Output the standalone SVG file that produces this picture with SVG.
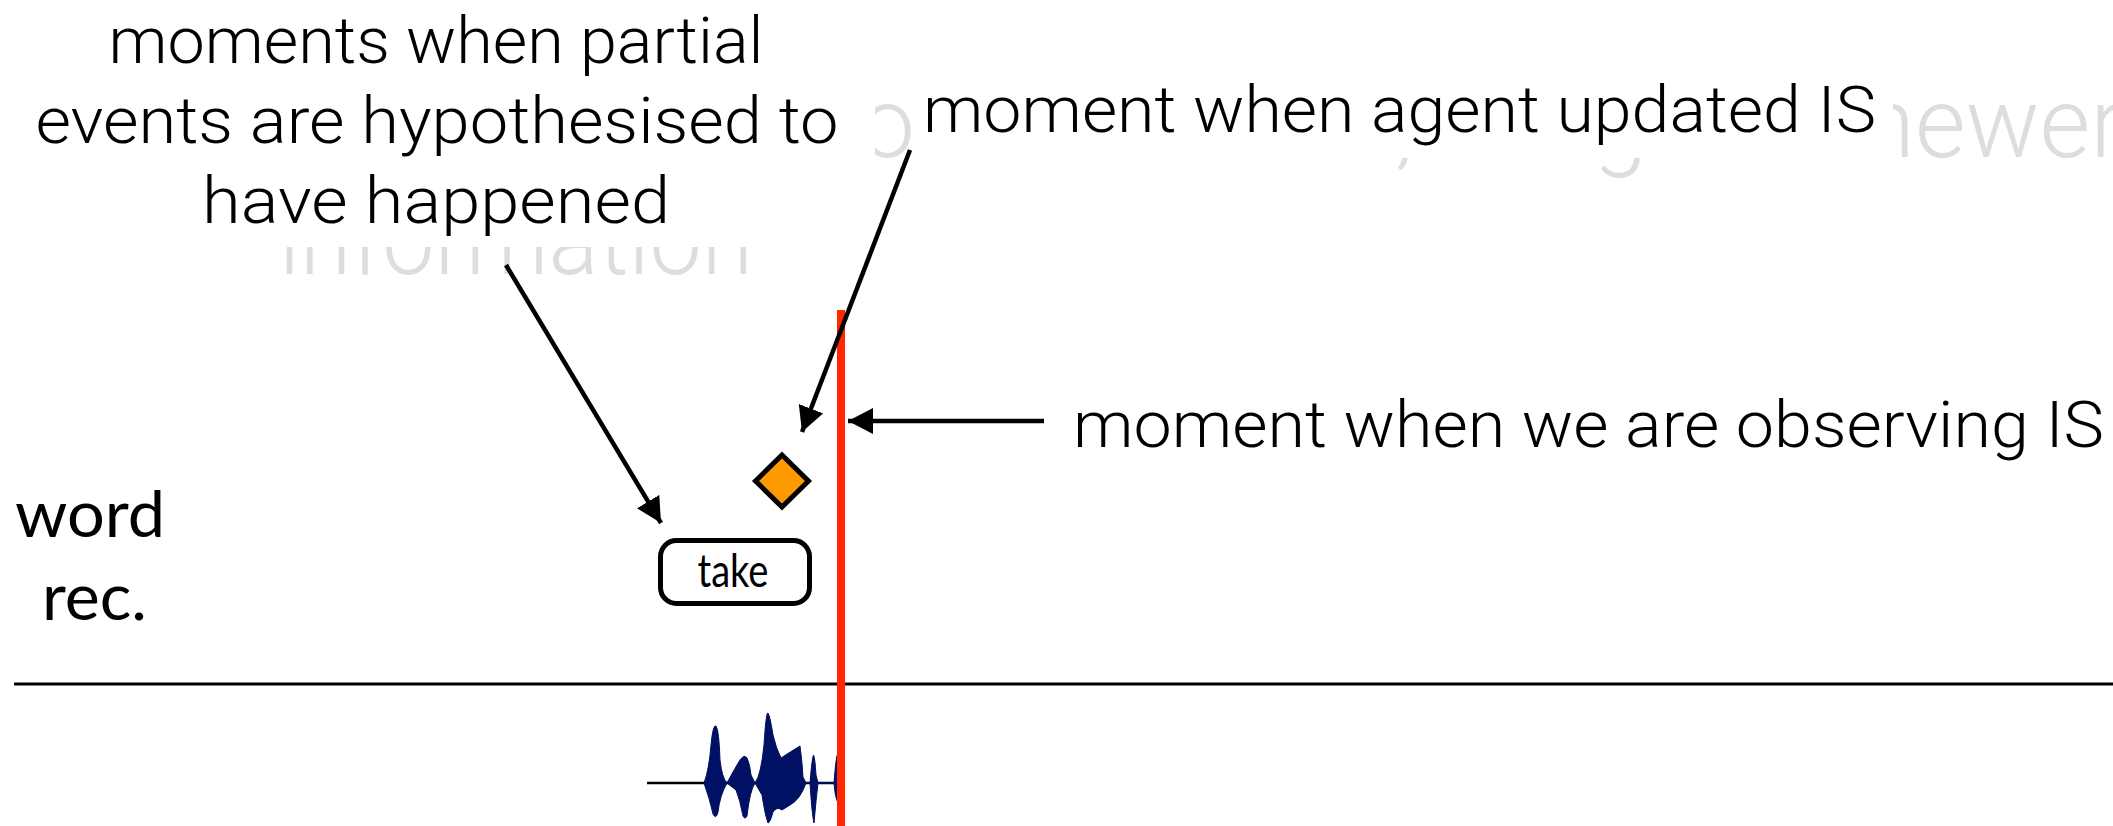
<svg xmlns="http://www.w3.org/2000/svg" width="2113" height="826" viewBox="0 0 2113 826">
<defs>
<style>
.lbl{font-family:Roboto,"Liberation Sans",Arial,sans-serif;font-weight:300;font-size:64px;fill:#000;}
.ghost{font-family:Roboto,"Liberation Sans",Arial,sans-serif;font-weight:300;font-size:98px;fill:#dcdde0;}
.gill{font-family:Lato,"Open Sans",sans-serif;fill:#000;}
.conn{stroke:#000;stroke-width:4.5;fill:none;marker-end:url(#ah);}
</style>
<marker id="ah" markerWidth="28" markerHeight="28" refX="25" refY="13" orient="auto" markerUnits="userSpaceOnUse">
<path d="M0,0 L25,13 L0,26 Z" fill="#000"/>
</marker>
<clipPath id="cInfo"><rect x="0" y="247" width="900" height="60"/></clipPath>
<clipPath id="cO"><rect x="875" y="80" width="40" height="100"/></clipPath>
<clipPath id="cLow"><rect x="1300" y="158" width="400" height="40"/></clipPath>
<clipPath id="cNewer"><rect x="1893" y="60" width="220" height="130"/></clipPath>
</defs>
<rect x="0" y="0" width="2113" height="826" fill="#fff"/>

<g id="ghost-text">
<text class="ghost" x="279" y="274" textLength="474" lengthAdjust="spacingAndGlyphs" clip-path="url(#cInfo)">information</text>
<text class="ghost" x="860" y="157" clip-path="url(#cO)">o</text>
<text class="ghost" x="1395" y="157" clip-path="url(#cLow)">,</text>
<text class="ghost" x="1593" y="157" clip-path="url(#cLow)">g</text>
<text class="ghost" x="1861" y="157" clip-path="url(#cNewer)">newer</text>
</g>

<g id="label-partial">
<text class="lbl" x="436" y="63" text-anchor="middle" textLength="655" lengthAdjust="spacingAndGlyphs">moments when partial</text>
<text class="lbl" x="437" y="143" text-anchor="middle" textLength="803" lengthAdjust="spacingAndGlyphs">events are hypothesised to</text>
<text class="lbl" x="436" y="223" text-anchor="middle" textLength="468" lengthAdjust="spacingAndGlyphs">have happened</text>
</g>

<g id="label-updated">
<text class="lbl" x="923" y="132" textLength="953" lengthAdjust="spacingAndGlyphs">moment when agent updated IS</text>
</g>

<g id="label-observing">
<text class="lbl" x="1073" y="447" textLength="1031" lengthAdjust="spacingAndGlyphs">moment when we are observing IS</text>
</g>

<g id="label-wordrec">
<text class="gill" x="15" y="537" font-size="64" textLength="150" lengthAdjust="spacingAndGlyphs">word</text>
<text class="gill" x="42" y="620" font-size="64" textLength="105" lengthAdjust="spacingAndGlyphs">rec.</text>
</g>

<g id="timeline">
<line x1="14" y1="684" x2="2113" y2="684" stroke="#000" stroke-width="3"/>
</g>

<g id="waveform">
<line x1="647" y1="783" x2="838" y2="783" stroke="#000" stroke-width="2.5"/>
<path fill="#001063" stroke="#001063" stroke-width="1" stroke-linejoin="round" d="M704,783 Q709,770 711,745 Q713,724 716,726 Q719,730 720,760 Q722,778 727,783 Q735,768 740,760 Q744,754 747,758 Q750,764 751,775 L755,783 Q761,775 764,745 Q766,712 768,713 Q770,716 773,735 Q776,748 781,758 Q790,752 800,746 Q802,760 803,777 L806,783 L810,783 Q812,758 813.5,755 Q815,758 816,775 L818,783 L834,783 Q836,755 838,753 L838,803 Q835,797 834,783 L818,783 Q816,800 814,823 Q812,815 810,783 L806,783 Q800,800 790,805 L782,810 Q777,806 773,812 Q770,823 768,823 Q765,815 762,795 L755,783 Q750,790 747,816 Q745,820 743,816 Q740,800 736,790 L727,783 Q720,795 718,812 Q716,820 713,814 Q710,800 704,783 Z"/>
</g>

<g id="node-take">
<rect x="660.5" y="540.5" width="149" height="63" rx="16" ry="16" fill="#fff" stroke="#000" stroke-width="5"/>
<text class="gill" x="733" y="587" font-size="46" text-anchor="middle" textLength="71" lengthAdjust="spacingAndGlyphs">take</text>
</g>

<g id="node-diamond">
<polygon points="782,455 808.5,481 782,507 755.5,481" fill="#ff9900" stroke="#000" stroke-width="5" stroke-linejoin="miter"/>
</g>

<g id="now-line">
<rect x="837" y="310" width="8" height="516" fill="#ff2600"/>
</g>

<g id="connectors">
<line class="conn" x1="506" y1="265" x2="661" y2="523"/>
<line class="conn" x1="910" y1="150" x2="802" y2="432"/>
<line class="conn" x1="1044" y1="421" x2="848" y2="421"/>
</g>
</svg>
